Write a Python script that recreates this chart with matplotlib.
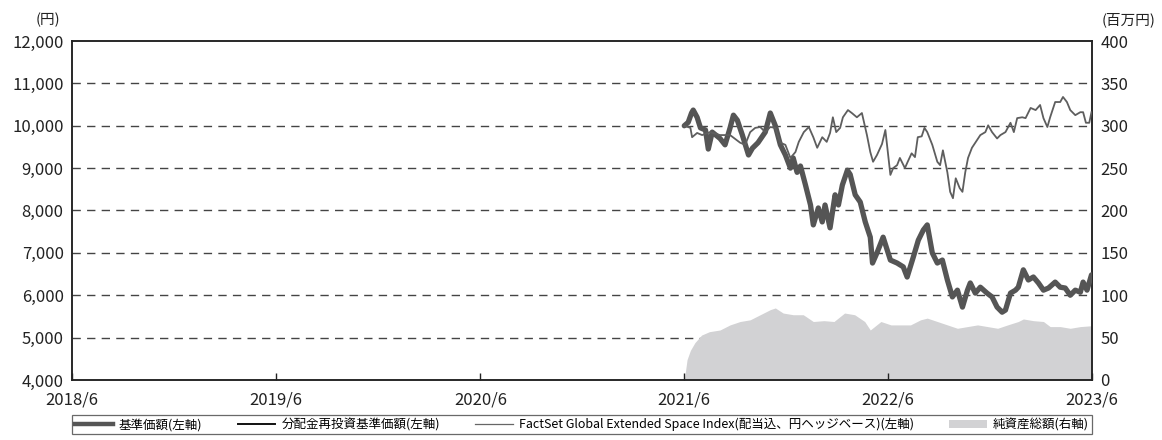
import numpy as np
import pandas as pd
import matplotlib
matplotlib.use("Agg")
import matplotlib.pyplot as plt
from matplotlib.lines import Line2D
from matplotlib.patches import Patch

plt.rcParams['font.family'] = ['Noto Sans CJK JP', 'DejaVu Sans']

# 基準価額 (円)
nav_dates = [
    "2021-06-01", "2021-06-08", "2021-06-14", "2021-06-17", "2021-06-24", "2021-06-30",
    "2021-07-09", "2021-07-14", "2021-07-21", "2021-08-04", "2021-08-13", "2021-08-22",
    "2021-08-28", "2021-09-04", "2021-09-13", "2021-09-24", "2021-10-01", "2021-10-11",
    "2021-10-24", "2021-11-02", "2021-11-11", "2021-11-20", "2021-11-29", "2021-12-08",
    "2021-12-13", "2021-12-20", "2021-12-26", "2022-01-04", "2022-01-13", "2022-01-18",
    "2022-01-27", "2022-02-03", "2022-02-08", "2022-02-17", "2022-02-26", "2022-03-04",
    "2022-03-11", "2022-03-20", "2022-03-25", "2022-04-03", "2022-04-12", "2022-04-21",
    "2022-04-30", "2022-05-04", "2022-05-12", "2022-05-23", "2022-06-05", "2022-06-17",
    "2022-06-28", "2022-07-05", "2022-07-16", "2022-07-25", "2022-08-03", "2022-08-10",
    "2022-08-19", "2022-08-28", "2022-09-06", "2022-09-15", "2022-09-24", "2022-10-03",
    "2022-10-12", "2022-10-21", "2022-10-26", "2022-11-04", "2022-11-13", "2022-11-25",
    "2022-12-04", "2022-12-13", "2022-12-22", "2022-12-28", "2023-01-06", "2023-01-15",
    "2023-01-20", "2023-01-29", "2023-02-07", "2023-02-16", "2023-02-25", "2023-03-06",
    "2023-03-15", "2023-03-27", "2023-04-05", "2023-04-14", "2023-04-23", "2023-05-02",
    "2023-05-11", "2023-05-16", "2023-05-23", "2023-05-31",
]
nav = [
    10000, 10080, 10300, 10370, 10200, 9950,
    9900, 9450, 9850, 9700, 9550, 9950,
    10250, 10130, 9780, 9310, 9470, 9600,
    9850, 10300, 10000, 9550, 9310, 9000,
    9240, 8900, 9050, 8600, 8130, 7660,
    8060, 7730, 8130, 7590, 8370, 8130,
    8600, 8950, 8850, 8370, 8200, 7730,
    7370, 6760, 7000, 7370, 6830, 6760,
    6670, 6430, 6900, 7300, 7540, 7660,
    7000, 6760, 6830, 6360, 5960, 6120,
    5720, 6120, 6290, 6050, 6190, 6050,
    5960, 5720, 5600, 5650, 6050, 6120,
    6190, 6600, 6360, 6430, 6290, 6120,
    6170, 6310, 6190, 6170, 6000, 6120,
    6070, 6310, 6120, 6480,
]

# FactSet Global Extended Space Index (円ヘッジ, 10000 起点)
idx_dates = [
    "2021-06-01", "2021-06-12", "2021-06-15", "2021-06-24", "2021-07-03", "2021-07-17",
    "2021-08-04", "2021-08-22", "2021-09-09", "2021-09-18", "2021-09-27", "2021-10-06",
    "2021-10-15", "2021-10-24", "2021-11-02", "2021-11-11", "2021-11-20", "2021-11-29",
    "2021-12-08", "2021-12-17", "2021-12-23", "2022-01-01", "2022-01-10", "2022-01-18",
    "2022-01-25", "2022-02-03", "2022-02-11", "2022-02-17", "2022-02-22", "2022-02-28",
    "2022-03-07", "2022-03-12", "2022-03-21", "2022-03-28", "2022-04-06", "2022-04-15",
    "2022-04-24", "2022-04-30", "2022-05-05", "2022-05-12", "2022-05-21", "2022-05-27",
    "2022-06-01", "2022-06-05", "2022-06-10", "2022-06-17", "2022-06-22", "2022-07-01",
    "2022-07-06", "2022-07-13", "2022-07-19", "2022-07-24", "2022-07-31", "2022-08-05",
    "2022-08-10", "2022-08-19", "2022-08-28", "2022-09-02", "2022-09-07", "2022-09-15",
    "2022-09-20", "2022-09-25", "2022-09-30", "2022-10-07", "2022-10-12", "2022-10-17",
    "2022-10-22", "2022-10-29", "2022-11-05", "2022-11-13", "2022-11-22", "2022-11-27",
    "2022-12-04", "2022-12-13", "2022-12-19", "2022-12-28", "2023-01-06", "2023-01-12",
    "2023-01-18", "2023-01-27", "2023-02-02", "2023-02-11", "2023-02-20", "2023-02-28",
    "2023-03-06", "2023-03-13", "2023-03-18", "2023-03-27", "2023-04-05", "2023-04-10",
    "2023-04-17", "2023-04-23", "2023-05-02", "2023-05-11", "2023-05-16", "2023-05-21",
    "2023-05-27", "2023-05-31",
]
idx = [
    10000, 9950, 9730, 9830, 9780, 9850,
    9780, 9780, 9600, 9550, 9850, 9950,
    9970, 9850, 9970, 9950, 9600, 9550,
    9240, 9380, 9620, 9850, 9970, 9730,
    9480, 9730, 9620, 9830, 10200, 9850,
    9950, 10200, 10370, 10300, 10200, 10300,
    9780, 9380, 9150, 9310, 9570, 9900,
    9310, 8840, 9000, 9070, 9240, 9000,
    9150, 9350, 9260, 9730, 9750, 9950,
    9850, 9550, 9150, 9070, 9420, 8900,
    8440, 8290, 8760, 8530, 8440, 8900,
    9240, 9480, 9620, 9780, 9850, 10010,
    9850, 9700, 9780, 9850, 10070, 9850,
    10180, 10200, 10180, 10420, 10370, 10490,
    10180, 9970, 10200, 10560, 10560, 10680,
    10560, 10370, 10250, 10320, 10320, 10070,
    10070, 10320,
]

# 純資産総額 (百万円)
aum_dates = [
    "2021-06-01", "2021-06-06", "2021-06-12", "2021-06-20", "2021-07-02", "2021-07-16",
    "2021-08-04", "2021-08-22", "2021-09-09", "2021-09-27", "2021-10-15", "2021-11-02",
    "2021-11-11", "2021-11-25", "2021-12-13", "2021-12-31", "2022-01-18", "2022-02-06",
    "2022-02-24", "2022-03-15", "2022-04-02", "2022-04-20", "2022-04-30", "2022-05-19",
    "2022-06-06", "2022-06-24", "2022-07-11", "2022-07-29", "2022-08-10", "2022-08-28",
    "2022-09-15", "2022-10-03", "2022-10-21", "2022-11-08", "2022-11-26", "2022-12-14",
    "2023-01-01", "2023-01-20", "2023-01-29", "2023-02-16", "2023-03-06", "2023-03-18",
    "2023-04-05", "2023-04-23", "2023-05-11", "2023-05-31",
]
aum = [
    0, 24, 35, 44, 53, 57,
    59, 65, 69, 71, 77, 83,
    85, 79, 77, 77, 69, 70,
    69, 79, 77, 69, 59, 69,
    65, 65, 65, 71, 73, 69,
    65, 61, 63, 65, 63, 61,
    65, 69, 72, 70, 69, 63,
    63, 61, 63, 64,
]

x_ticks = ["2018-06-01", "2019-06-01", "2020-06-01", "2021-06-01", "2022-06-01", "2023-06-01"]
x_labels = ["2018/6", "2019/6", "2020/6", "2021/6", "2022/6", "2023/6"]
left_ticks = [4000, 5000, 6000, 7000, 8000, 9000, 10000, 11000, 12000]
right_ticks = [0, 50, 100, 150, 200, 250, 300, 350, 400]

nav_dates = pd.to_datetime(nav_dates)
idx_dates = pd.to_datetime(idx_dates)
aum_dates = pd.to_datetime(aum_dates)
x_ticks = pd.to_datetime(x_ticks)

fig = plt.figure(figsize=(11.62, 4.4), dpi=100)
ax = fig.add_axes([0.062, 0.1364, 0.8778, 0.7704])
ax2 = ax.twinx()
ax.set_zorder(ax2.get_zorder() + 1)
ax.patch.set_visible(False)

# grid on the right axis so the area fill covers it
for v in right_ticks[1:-1]:
    ax2.axhline(v, color='#444444', lw=1.0, ls=(0, (6, 4.5)), zorder=0)

ax2.fill_between(aum_dates, 0, aum, color='#d2d2d4', lw=0, zorder=2)

ax.plot(nav_dates, nav, color='#111111', lw=1.4, zorder=2)
ax.plot(nav_dates, nav, color='#555555', lw=3.8, zorder=3,
        solid_joinstyle='round', solid_capstyle='round')
ax.plot(idx_dates, idx, color='#5e5e5e', lw=1.3, zorder=4)

ax.set_xlim(x_ticks[0], x_ticks[-1])
ax.set_ylim(4000, 12000)
ax2.set_ylim(0, 400)

ax.set_xticks(x_ticks)
ax.set_xticklabels(x_labels)
ax.set_yticks(left_ticks)
ax.set_yticklabels([f"{v:,}" for v in left_ticks])
ax2.set_yticks(right_ticks)
ax2.set_yticklabels([str(v) for v in right_ticks])

ax.tick_params(axis='x', direction='in', length=5, width=1, pad=8, labelsize=12, colors='#222222')
ax.tick_params(axis='y', length=0, pad=6, labelsize=12, colors='#222222')
ax2.tick_params(axis='y', length=0, pad=6, labelsize=12, colors='#222222')

for a in (ax, ax2):
    for s in a.spines.values():
        s.set_color('#222222')
        s.set_linewidth(1.1)

fig.text(0.041, 0.955, "(円)", fontsize=10.5, ha='center', va='center', color='#222222')
fig.text(0.971, 0.955, "(百万円)", fontsize=10.5, ha='center', va='center', color='#222222')

handles = [
    Line2D([], [], color='#555555', lw=3.2),
    Line2D([], [], color='#111111', lw=1.4),
    Line2D([], [], color='#666666', lw=0.9),
    Patch(facecolor='#d2d2d4', edgecolor='none'),
]
labels = [
    "基準価額(左軸)",
    "分配金再投資基準価額(左軸)",
    "FactSet Global Extended Space Index(配当込、円ヘッジベース)(左軸)",
    "純資産総額(右軸)",
]
leg = ax.legend(handles, labels, loc='upper left', bbox_to_anchor=(0, -0.103, 1.0, 0),
                mode='expand', ncol=4, frameon=True, fancybox=False, fontsize=9,
                handlelength=3.0, handleheight=0.6, columnspacing=1.2, handletextpad=0.5,
                borderaxespad=0, borderpad=0.25)
leg.get_frame().set_edgecolor('#444444')
leg.get_frame().set_linewidth(0.9)

fig.savefig("out.png", dpi=100)
